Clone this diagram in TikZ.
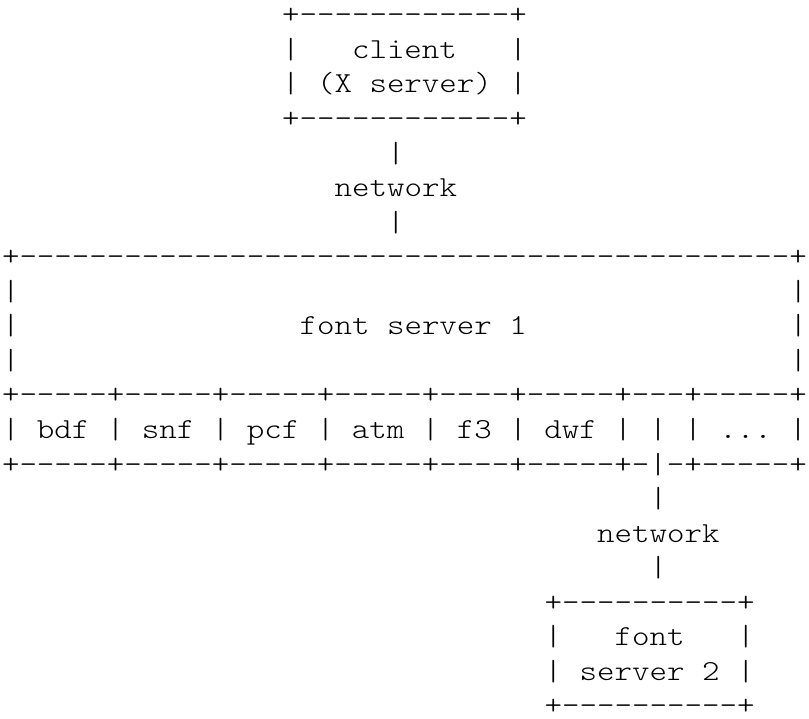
\documentclass[tikz,border=0pt]{standalone}
\usepackage{fontspec}
\setmonofont{lmmonolt10-regular.otf}[FakeStretch=1.1494]
\usetikzlibrary{positioning}

\tikzset{
  ascii/.style={font=\ttfamily\fontsize{29pt}{34.55pt}\selectfont,
    inner sep=0pt, outer sep=0pt, anchor=base west, text=black},
}

\begin{document}
\begin{tikzpicture}[x=17.5pt,y=-34.55pt]
  \useasboundingbox (0pt,0pt) rectangle (809pt,-719pt);
  \begin{scope}[shift={(2pt,10.7pt)}]
    % client box
    \node[ascii] (clienttop) at (16,1) {+------------+};
    \node[ascii] (clientA)   at (16,2) {|~~~client~~~|};
    \node[ascii] (clientB)   at (16,3) {|~(X server)~|};
    \node[ascii] (clientbot) at (16,4) {+------------+};
    % link to font server 1
    \node[ascii] (linkA)  at (22,5) {|};
    \node[ascii] (netA)   at (19,6) {network};
    \node[ascii] (linkB)  at (22,7) {|};
    % font server 1
    \node[ascii] (fsatop) at (0,8) {+--------------------------------------------+};
    \node[ascii] (fsaL1)  at (0,9) {|};
    \node[ascii] (fsaR1)  at (45,9) {|};
    \node[ascii] (fsaL2)  at (0,10) {|};
    \node[ascii] (fsa)    at (17,10) {font server 1};
    \node[ascii] (fsaR2)  at (45,10) {|};
    \node[ascii] (fsaL3)  at (0,11) {|};
    \node[ascii] (fsaR3)  at (45,11) {|};
    % font formats
    \node[ascii] (fmttop) at (0,12) {+-----+-----+-----+-----+----+-----+---+-----+};
    \node[ascii] (fmt)    at (0,13) {|~bdf~|~snf~|~pcf~|~atm~|~f3~|~dwf~|~|~|~...~|};
    \node[ascii] (fmtbot) at (0,14) {+-----+-----+-----+-----+----+-----+-|-+-----+};
    % link to font server 2
    \node[ascii] (linkC)  at (37,15) {|};
    \node[ascii] (netB)   at (34,16) {network};
    \node[ascii] (linkD)  at (37,17) {|};
    % font server 2
    \node[ascii] (fsbtop) at (31,18) {+----------+};
    \node[ascii] (fsbA)   at (31,19) {|~~~font~~~|};
    \node[ascii] (fsbB)   at (31,20) {|~server~2~|};
    \node[ascii] (fsbbot) at (31,21) {+----------+};
  \end{scope}
\end{tikzpicture}
\end{document}
